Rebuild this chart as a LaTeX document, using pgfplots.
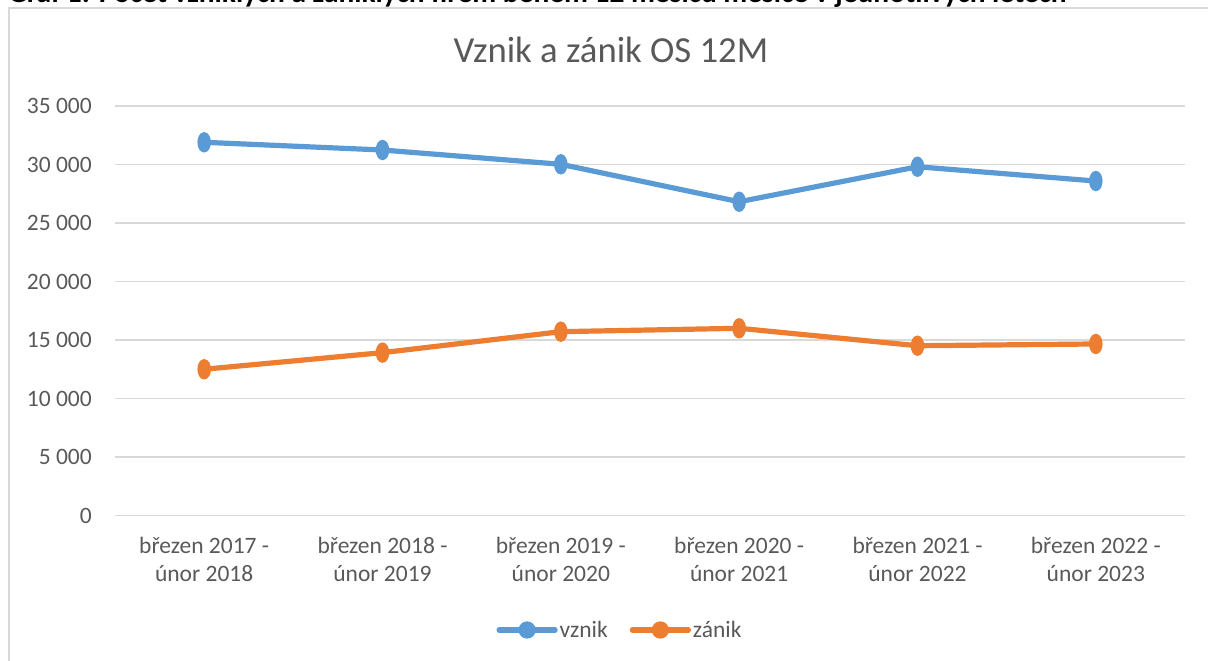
\documentclass[border=0pt]{standalone}
\usepackage{fontspec}
\setmainfont{Carlito}
\usepackage{pgfplots}
\pgfplotsset{compat=1.18}
\definecolor{vz}{HTML}{5B9BD5}
\definecolor{za}{HTML}{ED7D31}
\definecolor{txt}{HTML}{595959}
\definecolor{grd}{HTML}{D9D9D9}
\begin{document}
\begin{tikzpicture}
\useasboundingbox (0,0) rectangle (1208pt,661pt);
\clip (0,0) rectangle (1208pt,661pt);
% outer frame
\draw[grd, line width=2pt] (9pt,-20pt) -- (9pt,652.5pt) -- (1230pt,652.5pt);
% heading (cut at top)
\node[anchor=base west, inner sep=0pt, font=\bfseries\fontsize{29.4}{34}\selectfont] at (8pt,658.5pt)
  {Graf 1: Počet vzniklých a zaniklých firem během 12 měsíců měsíce v jednotlivých letech};
% title
\node[anchor=base, inner sep=0pt, text=txt, font=\fontsize{36.7}{40}\selectfont] at (611pt,598pt)
  {Vznik a zánik OS 12M};
\begin{axis}[
  at={(115pt,145.3pt)}, anchor=south west,
  width=1070pt, height=409.7pt, scale only axis,
  xmin=-0.5, xmax=5.5, ymin=0, ymax=35000,
  scaled y ticks=false,
  axis line style={draw=none},
  major tick length=0pt,
  ymajorgrids, grid style={grd, line width=1.5pt},
  ytick={0,5000,10000,15000,20000,25000,30000,35000},
  yticklabels={0,5 000,10 000,15 000,20 000,25 000,30 000,35 000},
  yticklabel style={anchor=east, inner sep=0pt, xshift=-23pt, text=txt, font=\fontsize{23.5}{28}\selectfont},
  xtick={0,1,2,3,4,5},
  xticklabels={{březen 2017 -\\únor 2018},{březen 2018 -\\únor 2019},{březen 2019 -\\únor 2020},{březen 2020 -\\únor 2021},{březen 2021 -\\únor 2022},{březen 2022 -\\únor 2023}},
  xticklabel style={align=center, anchor=north, inner sep=0pt, yshift=-21pt, text=txt, font=\fontsize{23.5}{28}\selectfont},
  clip=false,
  legend style={at={(0.472,-0.279)}, anchor=center, draw=none, fill=none, legend columns=2,
    font=\fontsize{23.5}{28}\selectfont, text=txt,
    /tikz/every even column/.append style={column sep=20pt}},
  legend cell align=left,
]
\draw[grd, line width=1.5pt] (axis cs:-0.5,0) -- (axis cs:5.5,0);
\addplot[vz, line width=5.2pt, mark=*, mark size=7.5pt, mark options={xscale=0.55},
  legend image code/.code={\draw[vz, line width=5.2pt, line cap=round] (0pt,0pt) -- (56pt,0pt); \fill[vz] (28pt,0pt) circle (6pt);}]
  coordinates {(0,31900) (1,31240) (2,30020) (3,26820) (4,29810) (5,28590)};
\addlegendentry{vznik}
\addplot[za, line width=5.2pt, mark=*, mark size=7.5pt, mark options={xscale=0.55},
  legend image code/.code={\draw[za, line width=5.2pt, line cap=round] (0pt,0pt) -- (56pt,0pt); \fill[za] (28pt,0pt) circle (6pt);}]
  coordinates {(0,12510) (1,13930) (2,15720) (3,16010) (4,14520) (5,14670)};
\addlegendentry{zánik}
\end{axis}
\end{tikzpicture}
\end{document}
